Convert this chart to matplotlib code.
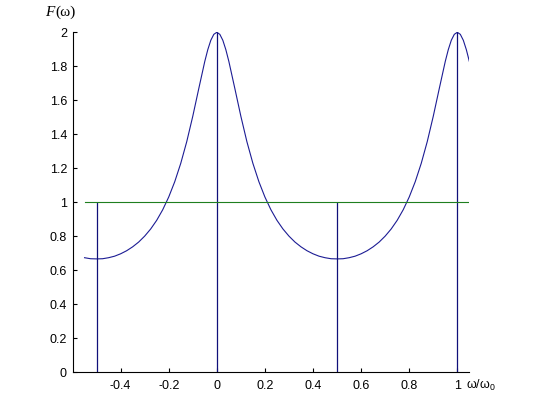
import numpy as np
import matplotlib
matplotlib.use("Agg")
import matplotlib.pyplot as plt

plt.rcParams['font.family'] = ['Liberation Sans', 'DejaVu Sans']
plt.rcParams['axes.unicode_minus'] = False
plt.rcParams['mathtext.fontset'] = 'custom'
plt.rcParams['mathtext.rm'] = 'Liberation Sans'

# sample positions: step 0.025, finer (0.0125) around the two peaks
omega = np.round(np.concatenate([
    np.arange(-0.55, -0.049, 0.025),
    np.arange(-0.0375, 0.0376, 0.0125),
    np.arange(0.05, 0.951, 0.025),
    np.arange(0.9625, 1.0501, 0.0125),
]), 4)

# F(omega)
F = [0.674, 0.668, 0.667, 0.668, 0.674, 0.683, 0.697, 0.715, 0.738, 0.766,
     0.801, 0.843, 0.894, 0.956, 1.031, 1.121, 1.229, 1.357, 1.506, 1.669,
     1.829,
     1.898, 1.953, 1.988, 2.000, 1.988, 1.953, 1.898,
     1.829, 1.669, 1.506, 1.357, 1.229, 1.121, 1.031, 0.956, 0.894, 0.843,
     0.801, 0.766, 0.738, 0.715, 0.697, 0.683, 0.674, 0.668, 0.667, 0.668,
     0.674, 0.683, 0.697, 0.715, 0.738, 0.766, 0.801, 0.843, 0.894, 0.956,
     1.031, 1.121, 1.229, 1.357, 1.506, 1.669, 1.829,
     1.898, 1.953, 1.988, 2.000, 1.988, 1.953, 1.898, 1.829]

# stems
stem_x = [-0.5, 0.0, 0.5, 1.0]
stem_h = [1, 2, 1, 2]

# reference level
level_x = [-0.55, 1.05]
level_y = [1, 1]

xticks = [-0.4, -0.2, 0, 0.2, 0.4, 0.6, 0.8, 1]
yticks = [0, 0.2, 0.4, 0.6, 0.8, 1, 1.2, 1.4, 1.6, 1.8, 2]

fig = plt.figure(figsize=(5.6, 4.2), dpi=100)
ax = fig.add_axes([0.1295, 0.1136, 0.7086, 0.8095])

ax.plot(omega, F, color='#1c1c94', lw=0.8)
ax.vlines(stem_x, 0, stem_h, color='#10107a', lw=0.9)
ax.plot(level_x, level_y, color='#1f7f1f', lw=0.8)

ax.set_xlim(-0.6, 1.05)
ax.set_ylim(0, 2)
ax.set_xticks(xticks)
ax.set_xticklabels(['%g' % t for t in xticks])
ax.set_yticks(yticks)
ax.set_yticklabels(['%g' % t for t in yticks])

for s in ['top', 'right']:
    ax.spines[s].set_visible(False)
for s in ['left', 'bottom']:
    ax.spines[s].set_linewidth(0.8)
ax.tick_params(direction='in', length=3, width=0.8, labelsize=9)
ax.tick_params(axis='x', pad=5.5)
ax.tick_params(axis='y', pad=4)

# axis labels placed like the original
ax.annotate('F', xy=(0, 1), xycoords='axes fraction', xytext=(-20, 12),
            textcoords='offset points', fontsize=11, fontstyle='italic',
            family='Liberation Serif', ha='left', va='baseline')
ax.annotate('(ω)', xy=(0, 1), xycoords='axes fraction', xytext=(-12.5, 12),
            textcoords='offset points', fontsize=11,
            family='Liberation Serif', ha='left', va='baseline')
ax.annotate(r'$\mathrm{\omega/\omega_0}$', xy=(1, 0),
            xycoords=('data', 'axes fraction'), xytext=(6.5, -12),
            textcoords='offset points', fontsize=9, ha='left', va='baseline')

fig.savefig('out.png', dpi=100)
